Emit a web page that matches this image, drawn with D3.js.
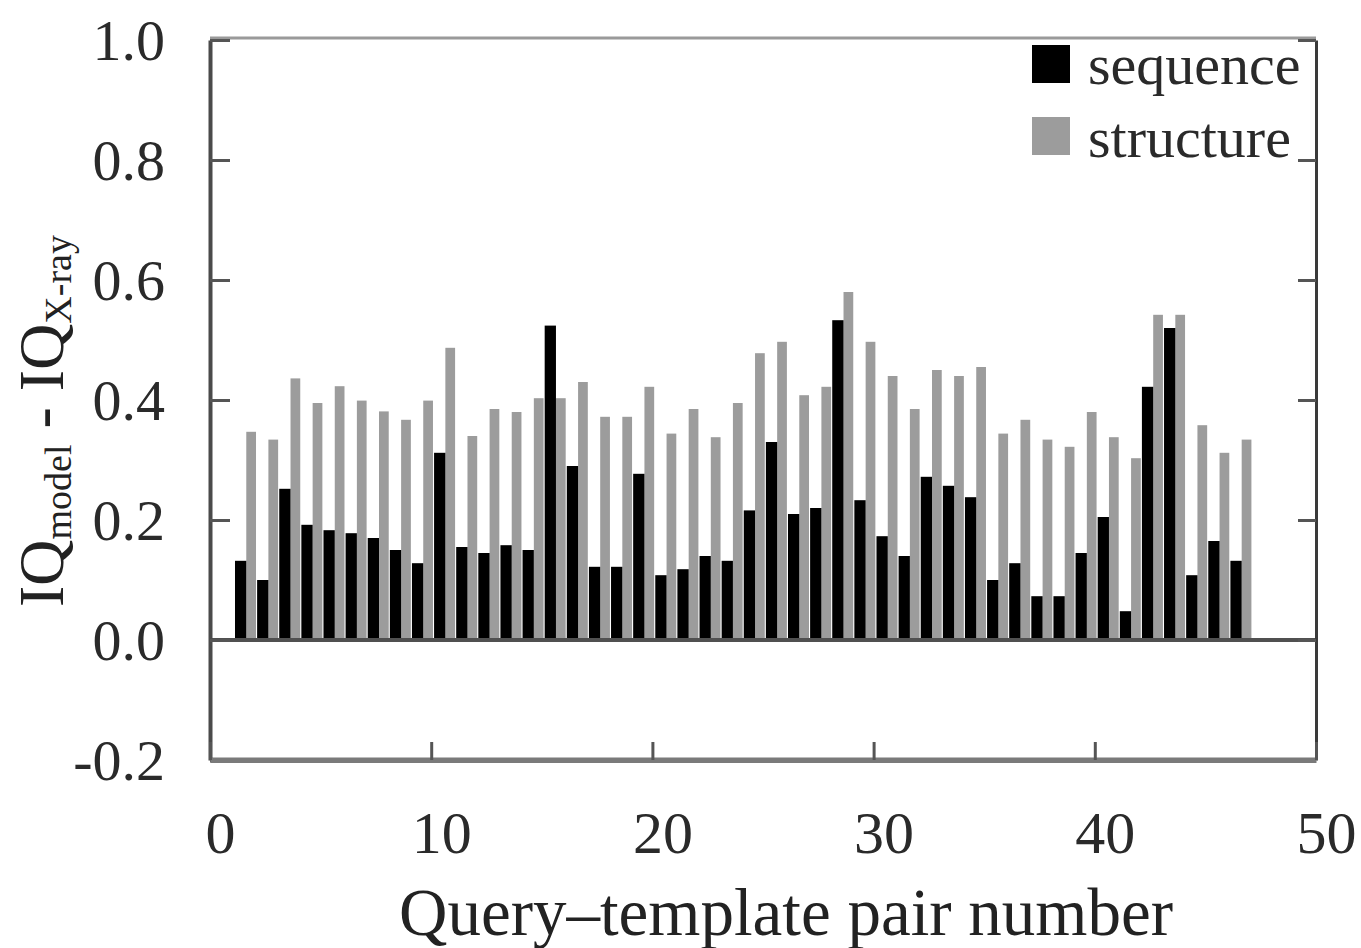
<!DOCTYPE html>
<html><head><meta charset="utf-8">
<script src="https://cdn.jsdelivr.net/npm/d3@7"></script>
<style>
html,body{margin:0;padding:0;background:#fff;}
svg{display:block;font-family:"Liberation Serif","Times New Roman",serif;}
</style></head>
<body><svg id="c" width="1361" height="948"></svg>
<script>
const pairs = d3.range(1, 47);
const sequence = [0.132,0.100,0.252,0.192,0.183,0.178,0.170,0.150,0.128,0.312,
  0.155,0.145,0.158,0.150,0.524,0.290,0.122,0.122,0.277,0.108,
  0.118,0.140,0.132,0.216,0.330,0.210,0.220,0.533,0.233,0.173,
  0.140,0.272,0.257,0.238,0.100,0.128,0.073,0.073,0.145,0.205,
  0.048,0.422,0.520,0.108,0.165,0.132];
const structure = [0.347,0.334,0.436,0.395,0.423,0.399,0.381,0.367,0.399,0.487,
  0.340,0.385,0.380,0.403,0.403,0.430,0.372,0.372,0.422,0.344,
  0.385,0.338,0.395,0.478,0.497,0.408,0.422,0.580,0.497,0.440,
  0.385,0.450,0.440,0.455,0.344,0.367,0.334,0.322,0.380,0.338,
  0.303,0.542,0.542,0.358,0.312,0.334];
const xTicks = [0,10,20,30,40,50];
const yTicks = [-0.2,0,0.2,0.4,0.6,0.8,1.0];
const seriesNames = ["sequence","structure"];
const seriesColors = ["#000000","#9c9c9c"];

const svg = d3.select("#c");
const L = 210, R = 1316, T = 38, B = 760;
const x = d3.scaleLinear().domain([0,50]).range([L,R]);
const y = d3.scaleLinear().domain([-0.2,1.0]).range([B,T+2]);

// bars
const g = svg.append("g");
g.selectAll("rect.st").data(pairs).join("rect").attr("class","st")
  .attr("x", d => x(d + 0.64)).attr("width", d => x(d + 1.08) - x(d + 0.64))
  .attr("y", (d,i) => y(structure[i])).attr("height", (d,i) => y(0) - y(structure[i]))
  .attr("fill", seriesColors[1]);
g.selectAll("rect.sq").data(pairs).join("rect").attr("class","sq")
  .attr("x", d => x(d + 0.13)).attr("width", d => x(d + 0.64) - x(d + 0.13))
  .attr("y", (d,i) => y(sequence[i])).attr("height", (d,i) => y(0) - y(sequence[i]))
  .attr("fill", seriesColors[0]);

// zero line
svg.append("line").attr("x1",L).attr("x2",R).attr("y1",y(0)).attr("y2",y(0))
  .attr("stroke","#505050").attr("stroke-width",4);

// frame
svg.append("line").attr("x1",L).attr("x2",R).attr("y1",T).attr("y2",T).attr("stroke","#9a9a9a").attr("stroke-width",3);
svg.append("line").attr("x1",L).attr("x2",R).attr("y1",B).attr("y2",B).attr("stroke","#7a7a7a").attr("stroke-width",5);

// axes
const fmt = v => d3.format(".1f")(v).replace("\u2212","-");
const ya = svg.append("g").attr("transform",`translate(${L},0)`)
  .call(d3.axisLeft(y).tickValues(yTicks).tickFormat(fmt).tickSizeInner(-20).tickSizeOuter(0).tickPadding(45));
const yr = svg.append("g").attr("transform",`translate(${R},0)`)
  .call(d3.axisRight(y).tickValues(yTicks).tickFormat("").tickSizeInner(-18).tickSizeOuter(0));
const xa = svg.append("g").attr("transform",`translate(0,${B})`)
  .call(d3.axisBottom(x).tickValues(xTicks).tickFormat(d3.format("d")).tickSizeInner(-18).tickSizeOuter(0).tickPadding(50));

ya.select(".domain").attr("stroke","#4a4a4a").attr("stroke-width",4);
yr.select(".domain").attr("stroke","#3a3a3a").attr("stroke-width",3);
xa.select(".domain").attr("stroke","#7a7a7a").attr("stroke-width",5);
[ya,yr,xa].forEach(a => a.selectAll(".tick line").attr("stroke","#555").attr("stroke-width",3));
ya.selectAll("text").attr("font-size",58).attr("font-family","Liberation Serif").attr("fill","#2a2a2a").attr("dy","0.34em");
xa.selectAll("text").attr("font-size",60).attr("font-family","Liberation Serif").attr("fill","#2a2a2a").attr("dx",10);

// x title
svg.append("text").attr("x",786).attr("y",935).attr("text-anchor","middle")
  .attr("font-size",67).attr("fill","#222").text("Query\u2013template pair number");

// y title
const yt = svg.append("text").attr("transform","translate(63,421) rotate(-90)")
  .attr("text-anchor","middle").attr("fill","#222").attr("font-size",64);
yt.append("tspan").text("IQ");
yt.append("tspan").attr("font-size",38).attr("dy",8).text("model");
yt.append("tspan").attr("dy",-8).text(" - IQ");
yt.append("tspan").attr("font-size",38).attr("dy",8).text("X-ray");

// legend
const lg = svg.append("g");
seriesNames.forEach((n,i) => {
  lg.append("rect").attr("x",1032).attr("y",45 + i*72).attr("width",38).attr("height",38).attr("fill",seriesColors[i]);
  lg.append("text").attr("x",1088).attr("y",84 + i*73).attr("font-size",58).attr("fill","#2a2a2a").text(n);
});
</script></body></html>
